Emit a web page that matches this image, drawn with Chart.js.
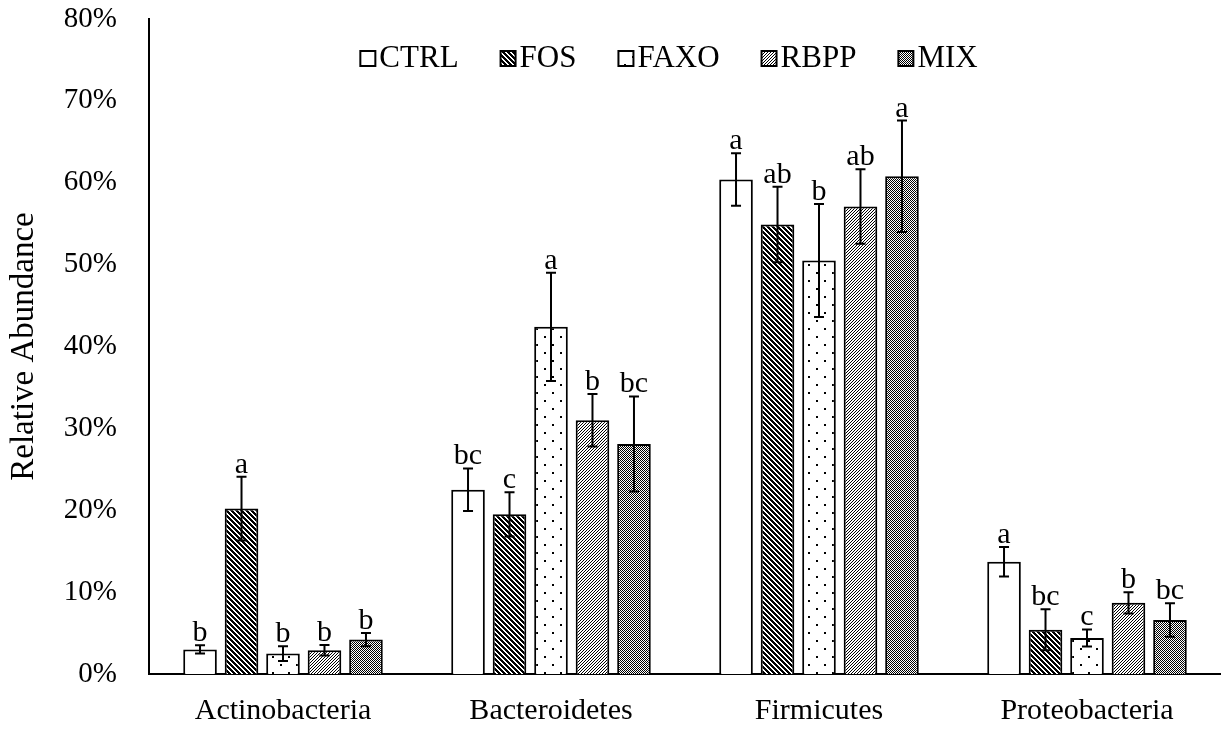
<!DOCTYPE html>
<html>
<head>
    <title>Relative Abundance</title>
    <script src="https://cdn.jsdelivr.net/npm/chart.js@4.4.1/dist/chart.umd.min.js"></script>
    <style>
        body { margin: 0; background: #fff; overflow: hidden; }
    </style>
</head>
<body>
    <canvas id="chart" width="1221" height="729"></canvas>

    <script>
        // values (percent)
        var categories = ['Actinobacteria', 'Bacteroidetes', 'Firmicutes', 'Proteobacteria'];
        var seriesNames = ['CTRL', 'FOS', 'FAXO', 'RBPP', 'MIX'];

        var ctrlValues = [3.0, 22.5, 60.4, 13.7];
        var fosValues = [20.2, 19.5, 54.9, 5.4];
        var faxoValues = [2.5, 42.4, 50.5, 4.4];
        var rbppValues = [2.9, 31.0, 57.1, 8.7];
        var mixValues = [4.2, 28.1, 60.8, 6.6];

        var ctrlErrors = [0.5, 2.6, 3.2, 1.8];
        var fosErrors = [3.9, 2.7, 4.6, 2.5];
        var faxoErrors = [0.9, 6.6, 6.9, 1.05];
        var rbppErrors = [0.65, 3.2, 4.55, 1.3];
        var mixErrors = [0.8, 5.8, 6.8, 2.05];

        var ctrlLetters = ['b', 'bc', 'a', 'a'];
        var fosLetters = ['a', 'c', 'ab', 'bc'];
        var faxoLetters = ['b', 'a', 'b', 'c'];
        var rbppLetters = ['b', 'b', 'ab', 'b'];
        var mixLetters = ['b', 'bc', 'a', 'bc'];

        var yTicks = [0, 10, 20, 30, 40, 50, 60, 70, 80];

        var allValues = [ctrlValues, fosValues, faxoValues, rbppValues, mixValues];
        var allErrors = [ctrlErrors, fosErrors, faxoErrors, rbppErrors, mixErrors];
        var allLetters = [ctrlLetters, fosLetters, faxoLetters, rbppLetters, mixLetters];

        var FONT = 'Liberation Serif, Times New Roman, serif';

        var canvas = document.getElementById('chart');
        var ctx = canvas.getContext('2d');

        // black & white fill patterns, pixel based like the office ones
        function makePattern(size, isBlack) {
            var c = document.createElement('canvas');
            c.width = size;
            c.height = size;
            var g = c.getContext('2d');
            g.fillStyle = '#fff';
            g.fillRect(0, 0, size, size);
            g.fillStyle = '#000';
            for (var y = 0; y < size; y++) {
                for (var x = 0; x < size; x++) {
                    if (isBlack(x, y)) g.fillRect(x, y, 1, 1);
                }
            }
            return ctx.createPattern(c, 'repeat');
        }

        var patterns = [
            '#ffffff',
            makePattern(5, function (x, y) { return ((x - y + 10) % 5) < 3; }),
            makePattern(16, function (x, y) {
                return (x < 2 && y < 2) || (x >= 8 && x < 10 && y >= 8 && y < 10);
            }),
            makePattern(3, function (x, y) { return ((x + y) % 3) === 0; }),
            makePattern(2, function (x, y) { return ((x + y) % 2) === 0; })
        ];

        // error bars and significance letters
        var errorBarPlugin = {
            id: 'errorBars',
            afterDatasetsDraw: function (chart) {
                var c = chart.ctx;
                var yScale = chart.scales.y;
                c.save();
                c.strokeStyle = '#000';
                c.lineWidth = 2;
                c.fillStyle = '#000';
                c.font = '30px ' + FONT;
                c.textAlign = 'center';
                c.textBaseline = 'alphabetic';
                allValues.forEach(function (vals, i) {
                    var meta = chart.getDatasetMeta(i);
                    vals.forEach(function (v, j) {
                        var x = meta.data[j].x;
                        var top = yScale.getPixelForValue(v + allErrors[i][j]);
                        var bot = yScale.getPixelForValue(v - allErrors[i][j]);
                        c.beginPath();
                        c.moveTo(x, top);
                        c.lineTo(x, bot);
                        c.moveTo(x - 5, top);
                        c.lineTo(x + 5, top);
                        c.moveTo(x - 5, bot);
                        c.lineTo(x + 5, bot);
                        c.stroke();
                        c.fillText(allLetters[i][j], x, top - 4);
                    });
                });
                c.restore();
            }
        };

        // legend sits inside the plot, one row
        var legendPlugin = {
            id: 'innerLegend',
            afterDraw: function (chart) {
                var c = chart.ctx;
                var box = 15, gap = 4, itemGap = 42, baseline = 67;
                c.save();
                c.font = '31px ' + FONT;
                c.textBaseline = 'alphabetic';
                var total = 0;
                seriesNames.forEach(function (n, i) {
                    total += box + gap + c.measureText(n).width + (i > 0 ? itemGap : 0);
                });
                var x = 669 - total / 2;
                seriesNames.forEach(function (n, i) {
                    c.fillStyle = patterns[i];
                    c.fillRect(x, baseline - box - 1, box, box);
                    c.strokeStyle = '#000';
                    c.lineWidth = 2;
                    c.strokeRect(x, baseline - box - 1, box, box);
                    c.fillStyle = '#000';
                    c.fillText(n, x + box + gap, baseline);
                    x += box + gap + c.measureText(n).width + itemGap;
                });
                c.restore();
            }
        };

        new Chart(ctx, {
            type: 'bar',
            data: {
                labels: categories,
                datasets: seriesNames.map(function (name, i) {
                    return {
                        label: name,
                        data: allValues[i],
                        backgroundColor: patterns[i],
                        borderColor: '#000',
                        borderWidth: 2,
                        barPercentage: 0.81,
                        categoryPercentage: 0.774
                    };
                })
            },
            options: {
                responsive: false,
                animation: false,
                layout: { padding: { top: 19, left: 0, right: 0, bottom: 0 } },
                plugins: {
                    legend: { display: false },
                    tooltip: { enabled: false }
                },
                scales: {
                    x: {
                        grid: { display: false, drawTicks: false },
                        border: { color: '#000', width: 2 },
                        ticks: { color: '#000', font: { family: FONT, size: 30 }, padding: 19 },
                        afterFit: function (s) { s.height = 55; }
                    },
                    y: {
                        min: 0,
                        max: 80,
                        afterBuildTicks: function (s) {
                            s.ticks = yTicks.map(function (v) { return { value: v }; });
                        },
                        grid: { display: false, drawTicks: false },
                        border: { color: '#000', width: 2 },
                        ticks: {
                            color: '#000',
                            font: { family: FONT, size: 29 },
                            padding: 32,
                            callback: function (v) { return v + '%'; }
                        },
                        title: {
                            display: true,
                            text: 'Relative Abundance',
                            color: '#000',
                            font: { family: FONT, size: 33 },
                            padding: { top: 5, bottom: 0 }
                        },
                        afterFit: function (s) {
                            s.width = 149;
                            // tick padding is meant sideways only
                            s.paddingTop = 0;
                            s.paddingBottom = 0;
                        }
                    }
                }
            },
            plugins: [errorBarPlugin, legendPlugin]
        });
    </script>
</body>
</html>
